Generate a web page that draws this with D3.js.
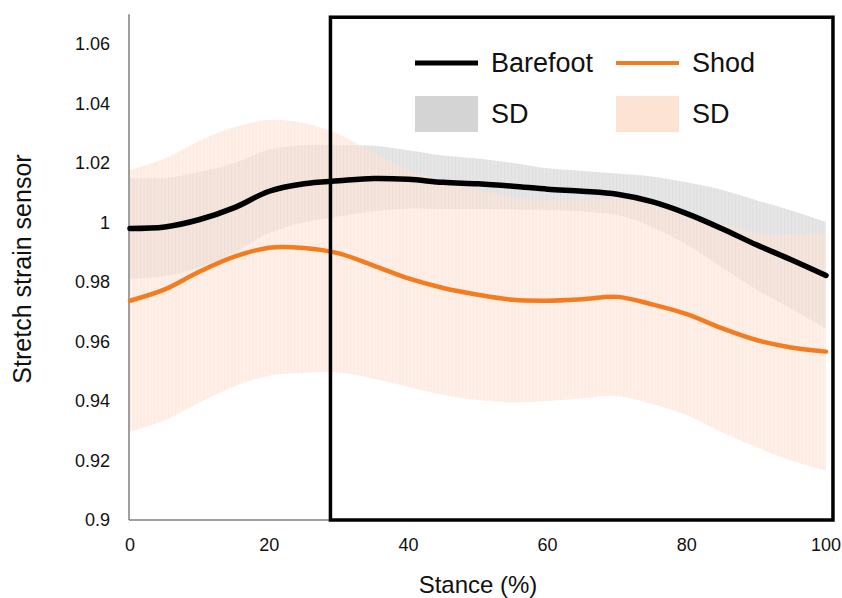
<!DOCTYPE html>
<html>
<head>
<meta charset="utf-8">
<script src="https://cdn.jsdelivr.net/npm/d3@7"></script>
<style>
    body { margin: 0; background: #fff; }
    text { font-family: "Liberation Sans", Arial, sans-serif; fill: #111; }
</style>
</head>
<body>
<div id="chart"></div>
<script>
// Stretch strain sensor during stance, barefoot vs shod (mean +/- SD)

// Data
const stance = [0, 5, 10, 15, 20, 25, 30, 35, 40, 45, 50, 55, 60, 65, 70, 75, 80, 85, 90, 95, 100];
const barefootMean = [0.998, 0.9985, 1.001, 1.005, 1.0105, 1.013, 1.014, 1.0148, 1.0145, 1.0135, 1.013,
    1.0122, 1.0112, 1.0105, 1.0095, 1.007, 1.003, 0.998, 0.9925, 0.9875, 0.9822];
const barefootSD = [0.017, 0.0165, 0.016, 0.015, 0.014, 0.013, 0.012, 0.011, 0.0098, 0.009, 0.0085,
    0.0078, 0.007, 0.0068, 0.007, 0.0085, 0.0105, 0.013, 0.015, 0.0165, 0.018];
const shodMean = [0.9737, 0.9775, 0.9835, 0.9885, 0.9915, 0.9914, 0.9896, 0.9855, 0.9812, 0.978, 0.9757,
    0.974, 0.9737, 0.9742, 0.975, 0.9725, 0.9692, 0.9645, 0.9605, 0.958, 0.9566];
const shodSD = [0.044, 0.044, 0.044, 0.0435, 0.043, 0.042, 0.040, 0.038, 0.0364, 0.036, 0.0354,
    0.0345, 0.0337, 0.0333, 0.0333, 0.0335, 0.034, 0.035, 0.036, 0.038, 0.040];
const yTicks = [0.9, 0.92, 0.94, 0.96, 0.98, 1, 1.02, 1.04, 1.06];
const xTicks = [0, 20, 40, 60, 80, 100];
// highlighted region (stance %) and its top (sensor value)
const boxRange = [28.8, 101];
const boxTop = 1.069;

const width = 842;
const height = 598;

const svg = d3.select('#chart')
    .append('svg')
    .attr('width', width)
    .attr('height', height);

// Scales
const x = d3.scaleLinear().domain([0, 100]).range([130, 826]);
const y = d3.scaleLinear().domain([0.9, 1.07]).range([520, 14.25]);

// Striped fills to mimic the dense error bars of the original
const defs = svg.append('defs');
function stripePattern(id, base, stripe) {
    const p = defs.append('pattern')
        .attr('id', id)
        .attr('patternUnits', 'userSpaceOnUse')
        .attr('width', 3.5)
        .attr('height', 10);
    p.append('rect').attr('width', 3.5).attr('height', 10).attr('fill', base);
    p.append('rect').attr('width', 1.2).attr('height', 10).attr('fill', stripe);
}
stripePattern('grayStripes', '#d6d6d6', '#c9c9c9');
stripePattern('peachStripes', '#fde6d8', '#fcdccb');

const rows = stance.map((s, i) => ({
    s: s,
    bm: barefootMean[i], bsd: barefootSD[i],
    sm: shodMean[i], ssd: shodSD[i]
}));

// Axis lines (no tick marks)
svg.append('line')
    .attr('x1', 129).attr('x2', 129)
    .attr('y1', y(1.07)).attr('y2', y(0.9))
    .attr('stroke', '#7f7f7f').attr('stroke-width', 1.5);
svg.append('line')
    .attr('x1', 129).attr('x2', x(101))
    .attr('y1', y(0.9)).attr('y2', y(0.9))
    .attr('stroke', '#7f7f7f').attr('stroke-width', 1.5);

// SD bands
const curve = d3.curveCatmullRom.alpha(0.5);
const barefootBand = d3.area()
    .x(d => x(d.s))
    .y0(d => y(d.bm - d.bsd))
    .y1(d => y(d.bm + d.bsd))
    .curve(curve);
const shodBand = d3.area()
    .x(d => x(d.s))
    .y0(d => y(d.sm - d.ssd))
    .y1(d => y(d.sm + d.ssd))
    .curve(curve);

svg.append('path')
    .datum(rows)
    .attr('d', barefootBand)
    .attr('fill', 'url(#grayStripes)')
    .attr('opacity', 0.6);
svg.append('path')
    .datum(rows)
    .attr('d', shodBand)
    .attr('fill', 'url(#peachStripes)')
    .attr('opacity', 0.6);

// Mean lines
svg.append('path')
    .datum(rows)
    .attr('d', d3.line().x(d => x(d.s)).y(d => y(d.bm)).curve(curve))
    .attr('fill', 'none')
    .attr('stroke', '#000')
    .attr('stroke-width', 5.5)
    .attr('stroke-linecap', 'round');
svg.append('path')
    .datum(rows)
    .attr('d', d3.line().x(d => x(d.s)).y(d => y(d.sm)).curve(curve))
    .attr('fill', 'none')
    .attr('stroke', '#f47c20')
    .attr('stroke-width', 4.5)
    .attr('stroke-linecap', 'round');

// Tick labels
svg.selectAll('.y-tick')
    .data(yTicks)
    .enter()
    .append('text')
    .attr('class', 'y-tick')
    .attr('x', 110)
    .attr('y', d => y(d))
    .attr('dy', '0.35em')
    .attr('text-anchor', 'end')
    .style('font-size', '18px')
    .text(d => d);

svg.selectAll('.x-tick')
    .data(xTicks)
    .enter()
    .append('text')
    .attr('class', 'x-tick')
    .attr('x', d => x(d))
    .attr('y', 551)
    .attr('text-anchor', 'middle')
    .style('font-size', '18px')
    .text(d => d);

// Axis titles
svg.append('text')
    .attr('x', 478)
    .attr('y', 593)
    .attr('text-anchor', 'middle')
    .style('font-size', '24px')
    .text('Stance (%)');
svg.append('text')
    .attr('transform', 'rotate(-90)')
    .attr('x', -269)
    .attr('y', 31)
    .attr('text-anchor', 'middle')
    .style('font-size', '25px')
    .text('Stretch strain sensor');

// Highlight box
svg.append('rect')
    .attr('x', x(boxRange[0]))
    .attr('y', y(boxTop))
    .attr('width', x(boxRange[1]) - x(boxRange[0]))
    .attr('height', y(0.9) - y(boxTop))
    .attr('fill', 'none')
    .attr('stroke', '#000')
    .attr('stroke-width', 3.5);

// Legend
const legend = [
    { label: 'Barefoot', type: 'line', color: '#000', w: 5, lx: 415, ly: 63 },
    { label: 'Shod', type: 'line', color: '#f47c20', w: 4, lx: 616, ly: 63 },
    { label: 'SD', type: 'swatch', color: '#d4d4d4', lx: 415, ly: 114 },
    { label: 'SD', type: 'swatch', color: '#fde3d4', lx: 616, ly: 114 }
];
const lg = svg.selectAll('.legend-item')
    .data(legend)
    .enter()
    .append('g')
    .attr('class', 'legend-item')
    .attr('transform', d => `translate(${d.lx},${d.ly})`);
lg.filter(d => d.type === 'line')
    .append('line')
    .attr('x1', 0).attr('x2', 63)
    .attr('stroke', d => d.color)
    .attr('stroke-width', d => d.w);
lg.filter(d => d.type === 'swatch')
    .append('rect')
    .attr('x', 0).attr('y', -18)
    .attr('width', 63).attr('height', 36)
    .attr('fill', d => d.color);
lg.append('text')
    .attr('x', 76)
    .attr('dy', '0.35em')
    .style('font-size', '27px')
    .text(d => d.label);
</script>
</body>
</html>
